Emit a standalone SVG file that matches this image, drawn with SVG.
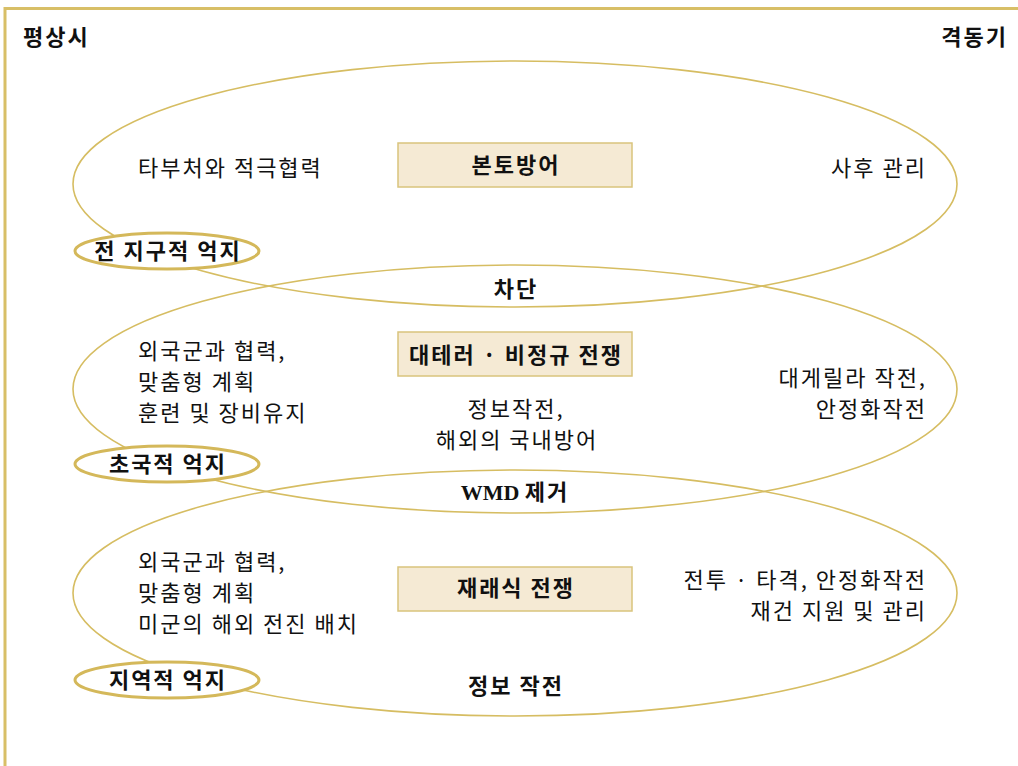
<svg xmlns="http://www.w3.org/2000/svg" width="1018" height="766" viewBox="0 0 1018 766">
<style>
.big{fill:none;stroke:#d6bd62;stroke-width:1.6}
.tag{fill:#fff;stroke:#d4b85a;stroke-width:3}
.box{fill:#f5ead4;stroke:#d9c47c;stroke-width:1.5}
.frame{stroke:#d8bf67;stroke-width:3;fill:none}
text{font-family:"Noto Sans CJK KR","Noto Sans",sans-serif;font-size:22px;fill:#111;letter-spacing:2px}
.b{font-weight:bold}
.m{text-anchor:middle}
.e{text-anchor:end}
.w{font-family:"Liberation Serif","Noto Sans CJK KR",serif;letter-spacing:0}
</style>
<g id="frame">
<path class="frame" d="M5,766 V8.5 H1018"/>
</g>
<g id="connectors">
<ellipse class="big" cx="515" cy="184" rx="442" ry="123"/>
<ellipse class="big" cx="515" cy="389" rx="442" ry="124"/>
<ellipse class="big" cx="515" cy="593" rx="442" ry="123"/>
</g>
<g id="axis">
<text class="b" x="23" y="45">평상시</text>
<text class="b e" x="1008" y="45">격동기</text>
</g>
<g id="node-global">
<text x="138" y="176">타부처와 적극협력</text>
<rect class="box" x="398" y="143" width="234" height="44"/>
<text class="b m" x="516" y="173">본토방어</text>
<text class="e" x="927" y="176">사후 관리</text>
<ellipse class="tag" cx="167" cy="251" rx="92" ry="18"/>
<text class="b m" x="168" y="259">전 지구적 억지</text>
<text class="b m" x="516" y="297">차단</text>
</g>
<g id="node-transnational">
<text x="138" y="359">외국군과 협력,</text>
<text x="138" y="390">맞춤형 계획</text>
<text x="138" y="421">훈련 및 장비유지</text>
<rect class="box" x="398" y="332" width="234" height="44"/>
<text class="b m" x="516" y="363">대테러 · 비정규 전쟁</text>
<text class="m" x="516" y="417">정보작전,</text>
<text class="m" x="517" y="448">해외의 국내방어</text>
<text class="e" x="927" y="386">대게릴라 작전,</text>
<text class="e" x="927" y="417">안정화작전</text>
<ellipse class="tag" cx="167" cy="464" rx="92" ry="18"/>
<text class="b m" x="168" y="472">초국적 억지</text>
<text class="b m w" x="515" y="500">WMD <tspan style="letter-spacing:2px">제거</tspan></text>
</g>
<g id="node-regional">
<text x="138" y="570">외국군과 협력,</text>
<text x="138" y="601">맞춤형 계획</text>
<text x="138" y="632">미군의 해외 전진 배치</text>
<rect class="box" x="398" y="567" width="234" height="44"/>
<text class="b m" x="516" y="596">재래식 전쟁</text>
<text class="e" x="927" y="588">전투 · 타격, 안정화작전</text>
<text class="e" x="927" y="619">재건 지원 및 관리</text>
<ellipse class="tag" cx="167" cy="680" rx="92" ry="18"/>
<text class="b m" x="168" y="688">지역적 억지</text>
<text class="b m" x="516" y="694">정보 작전</text>
</g>
</svg>
